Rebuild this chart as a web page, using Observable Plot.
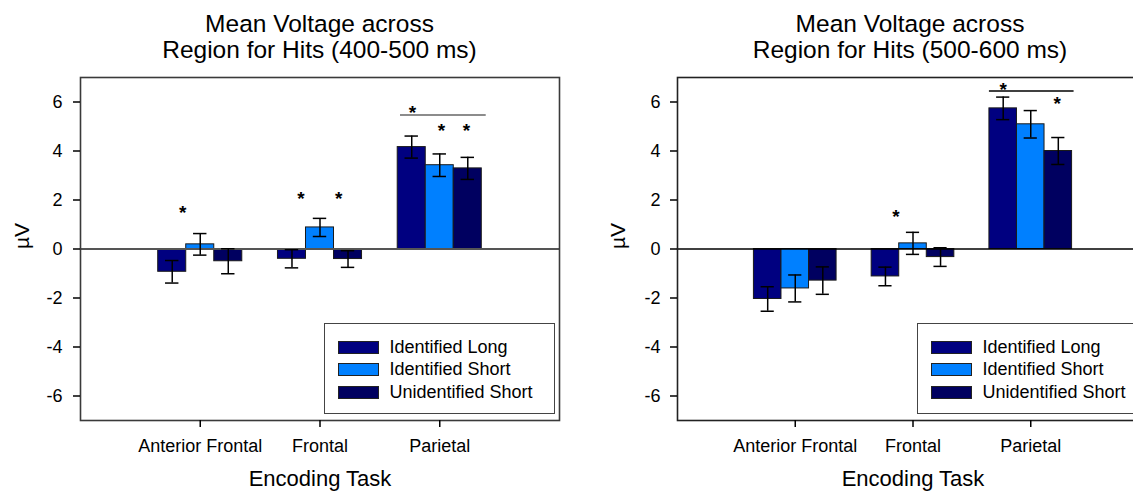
<!DOCTYPE html>
<html>
<head>
<meta charset="utf-8">
<script src="https://cdn.jsdelivr.net/npm/d3@7"></script>
<script src="https://cdn.jsdelivr.net/npm/@observablehq/plot@0.6"></script>
<style>
  html, body { margin: 0; padding: 0; background: #fff; }
  #root { position: relative; width: 1133px; height: 495px; overflow: hidden; background: #fff;
          font-family: "Liberation Sans", Arial, sans-serif; color: #000; }
  .title { position: absolute; width: 520px; text-align: center; font-size: 24.5px; line-height: 25.6px; }
  .legend { position: absolute; border: 1.5px solid #444; background: #fff; box-sizing: border-box; }
  .lrow { position: absolute; height: 22.8px; display: flex; align-items: center; font-size: 18px; white-space: nowrap; }
  .sw { display: inline-block; width: 41px; height: 13px; border: 1px solid #222; box-sizing: border-box; margin-right: 11px; }
</style>
</head>
<body>
<div id="root"></div>
<script>
// ---------- data ----------
const categories = ["Anterior Frontal", "Frontal", "Parietal"];
const seriesNames = ["Identified Long", "Identified Short", "Unidentified Short"];
const seriesColors = ["#000080", "#0080ff", "#000060"];
const yTicks = [-6, -4, -2, 0, 2, 4, 6];

const titleEarly = ["Mean Voltage across", "Region for Hits (400-500 ms)"];
const titleLate = ["Mean Voltage across", "Region for Hits (500-600 ms)"];
const xLabel = "Encoding Task";
const yLabel = "µV";

// 400-500 ms means and standard errors (per region)
const earlyLong = [-0.93, -0.40, 4.16];
const earlyShort = [0.19, 0.88, 3.42];
const earlyUnid = [-0.50, -0.41, 3.29];
const earlyLongSE = [0.46, 0.37, 0.45];
const earlyShortSE = [0.44, 0.37, 0.46];
const earlyUnidSE = [0.51, 0.34, 0.45];

// 500-600 ms means and standard errors
const lateLong = [-2.04, -1.12, 5.74];
const lateShort = [-1.61, 0.23, 5.09];
const lateUnid = [-1.29, -0.33, 4.00];
const lateLongSE = [0.50, 0.38, 0.46];
const lateShortSE = [0.55, 0.45, 0.56];
const lateUnidSE = [0.56, 0.38, 0.55];

// significance markers (x in region units, y in µV)
const earlyStarX = [0.853, 1.840, 2.156, 2.772, 3.015, 3.223];
const earlyStarY = [1.66, 2.24, 2.24, 5.75, 5.04, 5.04];
const earlyLineX = [2.672, 3.388];
const earlyLineY = 5.47;
const lateStarX = [1.855, 2.766, 3.224];
const lateStarY = [1.52, 6.70, 6.13];
const lateLineX = [2.649, 3.368];
const lateLineY = 6.45;

// ---------- drawing ----------
const BAR = 0.234, CAP = 0.056;
function rowsOf(means, ses) {
  const rows = [];
  categories.forEach((c, ci) => {
    means.forEach((m, si) => {
      rows.push({ci, si, x: ci + 1 + (si - 1) * BAR, value: m[ci], se: ses[si][ci]});
    });
  });
  return rows;
}

function panel(opts) {
  const rows = rowsOf(opts.means, opts.ses);
  return Plot.plot({
    width: 580, height: 435,
    marginLeft: opts.marginLeft, marginRight: opts.marginRight, marginTop: 17, marginBottom: 75,
    x: {domain: [0, 4]},
    y: {domain: [-7, 7]},
    style: {fontFamily: '"Liberation Sans", Arial, sans-serif', fontSize: "18px", color: "#000", background: "transparent", overflow: "visible"},
    marks: [
      Plot.rectY(rows, {x1: d => d.x - BAR / 2, x2: d => d.x + BAR / 2, y1: () => 0, y2: "value",
        fill: d => seriesColors[d.si], stroke: "#1a1a1a", strokeWidth: 1}),
      Plot.ruleY([0], {stroke: opts.zeroColor, strokeWidth: opts.zeroWidth}),
      Plot.ruleX(rows, {x: "x", y1: d => d.value - d.se, y2: d => d.value + d.se, stroke: "#000", strokeWidth: 1.5}),
      Plot.ruleY(rows, {x1: d => d.x - CAP, x2: d => d.x + CAP, y: d => d.value + d.se, stroke: "#000", strokeWidth: 1.5}),
      Plot.ruleY(rows, {x1: d => d.x - CAP, x2: d => d.x + CAP, y: d => d.value - d.se, stroke: "#000", strokeWidth: 1.5}),
      Plot.ruleY([opts.lineY], {x1: () => opts.lineX[0], x2: () => opts.lineX[1], y: d => d, stroke: opts.sigColor, strokeWidth: 1.5}),
      Plot.text(opts.starX, {x: d => d, y: (d, i) => opts.starY[i], text: () => "*", fontSize: 19, fontWeight: "bold", dy: 5, fill: "#000"}),
      Plot.frame({stroke: opts.frameColor, strokeWidth: 1.6}),
      Plot.axisX({ticks: [1, 2, 3], tickFormat: i => categories[i - 1], tickSize: 7, tickPadding: 12, strokeWidth: 1.5, label: null}),
      Plot.axisY({ticks: yTicks, tickFormat: d => String(d), tickSize: 7, tickPadding: opts.yPad, strokeWidth: 1.5, label: null}),
      Plot.text([yLabel], {frameAnchor: "left", dx: opts.yLabelDx, rotate: -90, fontSize: 21}),
      Plot.text([xLabel], {frameAnchor: "bottom", dy: 65, fontSize: 22})
    ]
  });
}

const root = document.getElementById("root");

function place(el, left, top) {
  el.style.position = "absolute";
  el.style.left = left + "px";
  el.style.top = top + "px";
  root.appendChild(el);
}

function addTitle(lines, center) {
  const div = document.createElement("div");
  div.className = "title";
  div.style.left = (center - 260) + "px";
  div.style.top = "11.4px";
  div.innerHTML = lines.map(t => `<div>${t}</div>`).join("");
  root.appendChild(div);
}

function addLegend(left, top, width, swLeft) {
  const box = document.createElement("div");
  box.className = "legend";
  box.style.left = left + "px";
  box.style.top = top + "px";
  box.style.width = width + "px";
  box.style.height = "91.6px";
  seriesNames.forEach((name, i) => {
    const row = document.createElement("div");
    row.className = "lrow";
    row.style.left = swLeft + "px";
    row.style.top = (12 + i * 22.8) + "px";
    const sw = document.createElement("span");
    sw.className = "sw";
    sw.style.background = seriesColors[i];
    const label = document.createElement("span");
    label.textContent = name;
    row.appendChild(sw);
    row.appendChild(label);
    box.appendChild(row);
  });
  root.appendChild(box);
}

const left = panel({
  means: [earlyLong, earlyShort, earlyUnid], ses: [earlyLongSE, earlyShortSE, earlyUnidSE],
  marginLeft: 80, marginRight: 21, yPad: 11, yLabelDx: -58,
  zeroColor: "#555", zeroWidth: 2, frameColor: "#3a3a3a", sigColor: "#666",
  starX: earlyStarX, starY: earlyStarY, lineX: earlyLineX, lineY: earlyLineY
});
place(left, 0, 60);

const right = panel({
  means: [lateLong, lateShort, lateUnid], ses: [lateLongSE, lateShortSE, lateUnidSE],
  marginLeft: 97, marginRight: 12, yPad: 10, yLabelDx: -59,
  zeroColor: "#000", zeroWidth: 1.5, frameColor: "#222", sigColor: "#000",
  starX: lateStarX, starY: lateStarY, lineX: lateLineX, lineY: lateLineY
});
place(right, 580, 60);

addTitle(titleEarly, 319.5);
addTitle(titleLate, 910);
addLegend(324, 322.7, 231, 12.5);
addLegend(917, 322.7, 231, 12.5);
</script>
</body>
</html>
